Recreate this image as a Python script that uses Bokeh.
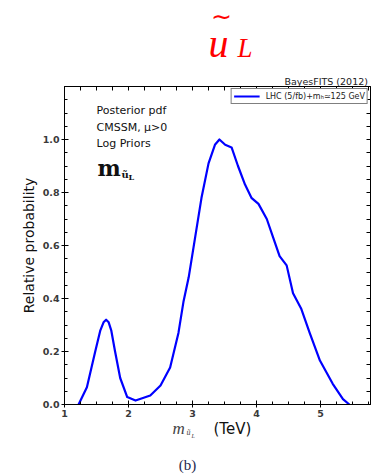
from bokeh.plotting import figure
from bokeh.layouts import column
from bokeh.models import (ColumnDataSource, Label, LinearAxis, FixedTicker,
                          Legend, LegendItem, Range1d, PrintfTickFormatter)
from bokeh.embed import file_html
from bokeh.resources import INLINE

# ---- data ----
mass_tev = [1.22, 1.35, 1.48, 1.56, 1.61, 1.65, 1.69, 1.73, 1.79, 1.87, 1.98,
            2.11, 2.34, 2.50, 2.65, 2.78, 2.86, 2.94, 3.04, 3.14, 3.25, 3.35,
            3.42, 3.51, 3.61, 3.71, 3.82, 3.92, 4.03, 4.16, 4.26, 4.36, 4.47,
            4.57, 4.70, 4.83, 4.99, 5.19, 5.35, 5.45]
rel_prob = [0.0, 0.065, 0.20, 0.28, 0.31, 0.32, 0.31, 0.28, 0.20, 0.10, 0.028,
            0.015, 0.034, 0.072, 0.14, 0.27, 0.39, 0.48, 0.63, 0.78, 0.91,
            0.98, 1.0, 0.98, 0.97, 0.90, 0.83, 0.78, 0.757, 0.70, 0.63, 0.56,
            0.525, 0.42, 0.36, 0.27, 0.166, 0.078, 0.02, 0.0]
x_ticks = [1, 2, 3, 4, 5]
y_ticks = [0.0, 0.2, 0.4, 0.6, 0.8, 1.0]
legend_label = "LHC (5/fb)+mₕ≃125 GeV"
y_label = "Relative probability"

W = 372
FL, FR = 64, 370   # frame left / right in canvas pixels


def blank(h, y_top):
    f = figure(width=W, height=h, output_backend="svg", toolbar_location=None,
               x_range=Range1d(FL, FR), y_range=Range1d(y_top + h, y_top),
               min_border_left=FL, min_border_right=W - FR, min_border_top=0,
               min_border_bottom=0, x_axis_location=None, y_axis_location=None)
    f.outline_line_color = None
    f.xgrid.visible = False
    f.ygrid.visible = False
    f.background_fill_color = "white"
    f.border_fill_color = "white"
    return f


def lab(fig, text, x, y, size, font="DejaVu Sans", style="normal", color="#111",
        align="left", baseline="alphabetic", units="data"):
    fig.add_layout(Label(x=x, y=y, x_units=units, y_units=units, text=text,
                         text_font=font, text_font_size=size,
                         text_font_style=style, text_color=color,
                         text_align=align, text_baseline=baseline))


# ---- top strip: title + BayesFITS ----
top = blank(86, 0)
lab(top, "u", 208, 43, "40px", font="Liberation Serif", style="italic", color="red")
lab(top, "∼", 221, 1, "25px", font="DejaVu Sans", color="red",
    align="center", baseline="top")
lab(top, "L", 237, 47, "27px", font="Liberation Serif", style="italic", color="red")
lab(top, "BayesFITS (2012)", 284, 81, "9.5px", color="#222")

# ---- main plot ----
src = ColumnDataSource(dict(x=mass_tev, y=rel_prob))
p = figure(width=W, height=334, output_backend="svg", toolbar_location=None,
           x_range=Range1d(1, 5.78), y_range=Range1d(0, 1.2),
           min_border_left=FL, min_border_right=W - FR, min_border_top=0,
           min_border_bottom=16, x_axis_location=None, y_axis_location=None)
p.background_fill_color = "white"
p.border_fill_color = "white"
p.outline_line_color = "black"
p.outline_line_width = 1
p.xgrid.visible = False
p.ygrid.visible = False

x_minor = [1 + 0.25 * i for i in range(0, 20)]
y_minor = [0.05 * i for i in range(0, 25)]


def style(ax, labels):
    ax.axis_line_color = "black"
    ax.major_tick_line_color = "black"
    ax.minor_tick_line_color = "black"
    ax.major_tick_in = 4
    ax.major_tick_out = 3
    ax.minor_tick_in = 3 if labels else 4
    ax.minor_tick_out = 0
    ax.major_label_text_font = "DejaVu Sans"
    ax.major_label_text_font_size = "9.5px"
    ax.major_label_text_font_style = "bold"
    ax.major_label_text_color = "#3a3a3a"
    ax.major_label_standoff = 2


xt = FixedTicker(ticks=x_ticks, minor_ticks=x_minor)
yt = FixedTicker(ticks=y_ticks, minor_ticks=y_minor)
# top/right mirror axes: tick marks only (no labels)
xt_top = FixedTicker(ticks=[], minor_ticks=x_minor)
yt_right = FixedTicker(ticks=[], minor_ticks=y_minor)

bx = LinearAxis(ticker=xt); style(bx, True)
ly = LinearAxis(ticker=yt, formatter=PrintfTickFormatter(format="%.1f")); style(ly, True)
ly.axis_label = y_label
ly.axis_label_text_font = "DejaVu Sans"
ly.axis_label_text_font_size = "14px"
ly.axis_label_text_font_style = "normal"
ly.axis_label_text_color = "#111"
ly.axis_label_standoff = 3
tx = LinearAxis(ticker=xt_top); style(tx, False)
ry = LinearAxis(ticker=yt_right); style(ry, False)
p.add_layout(bx, "below")
p.add_layout(ly, "left")
p.add_layout(tx, "above")
p.add_layout(ry, "right")

r = p.line("x", "y", source=src, line_color="#0000ff", line_width=2.2,
           line_join="round")

leg = Legend(items=[LegendItem(label=legend_label, renderers=[r])],
             location="top_right")
leg.label_text_font = "DejaVu Sans"
leg.label_text_font_size = "8px"
leg.label_text_color = "#222"
leg.border_line_color = "black"
leg.border_line_width = 1
leg.margin = 2
leg.padding = 2
leg.spacing = 0
leg.glyph_width = 26
leg.glyph_height = 10
leg.label_height = 10
leg.label_standoff = 6
leg.background_fill_alpha = 1
p.add_layout(leg)

# in-frame annotations (screen units, relative to frame bottom-left)
lab(p, "Posterior pdf", 32, 294, "11px", units="screen")
lab(p, "CMSSM, μ>0", 32, 277, "11px", units="screen")
lab(p, "Log Priors", 32, 261, "11px", units="screen")
lab(p, "m", 33, 237, "22px", font="DejaVu Serif", style="bold", units="screen")
lab(p, "ũ", 57, 230, "10px", font="DejaVu Serif", style="bold", units="screen")
lab(p, "L", 64, 228, "8px", font="DejaVu Serif", style="bold", units="screen")

# ---- bottom strip: x label + caption ----
bot = blank(56, 420)
lab(bot, "m", 172, 428, "17px", font="Liberation Serif", style="italic", color="#444")
lab(bot, "ũ", 186, 432, "8px", font="Liberation Serif", style="italic", color="#444")
lab(bot, "L", 191, 435, "6px", font="Liberation Serif", style="italic", color="#444")
lab(bot, "(TeV)", 213, 428, "15px", color="#111")
lab(bot, "(b)", 187, 464, "15px", font="Liberation Serif", color="#26264d",
    align="center")

layout = column(top, p, bot, spacing=0)
open("out.html", "w").write(file_html(layout, INLINE))
